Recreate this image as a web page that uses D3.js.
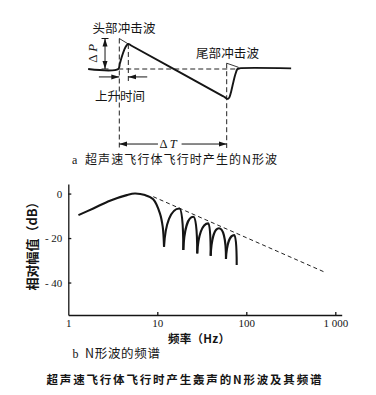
<!DOCTYPE html>
<html>
<head>
<meta charset="utf-8">
<script src="https://cdnjs.cloudflare.com/ajax/libs/d3/7.8.5/d3.min.js"></script>
<style>
body { margin: 0; background: #fff; }
svg { display: block; }
text { fill: #151515; }
.cjk { font-family: "Noto Sans CJK SC", sans-serif; }
.num { font-family: "Liberation Serif", "DejaVu Serif", serif; }
.axis path, .axis line { stroke: #151515; stroke-width: 1.3; }
.axis text { font-family: "Liberation Serif", serif; font-size: 11px; fill: #151515; }
</style>
</head>
<body>
<svg id="chart" width="376" height="395"></svg>
<script>
// a: N wave, t in units of dT, p in units of dP
var waveT = [-0.29, -0.01, 0.005, 0.025, 0.045, 0.065, 0.084, 0.11, 0.96, 0.985, 1.0, 1.012, 1.025, 1.04, 1.06, 1.08, 1.1, 1.115, 1.6];
var waveP = [0, 0, 0.18, 0.42, 0.62, 0.76, 0.82, 0.77, -0.88, -0.93, -0.97, -0.98, -0.93, -0.76, -0.46, -0.18, 0.0, 0.02, 0.02];
var headIdealT = [0, 0.084];
var headIdealP = [1, 0.82];
var tailIdealT = [1.0, 1.11];
var tailIdealP = [0.19, 0.055];

// b: spectrum
var xTicks = [1, 10, 100, 1000];
var xTickLabels = ["1", "10", "100", "1 000"];
var yTicks = [0, -20, -40];
var yTickLabels = ["0", "- 20", "- 40"];
var humpF = [1.3, 1.91, 2.94, 4.54, 5.6, 7.28, 9.0, 10.7, 11.5, 11.9];
var humpDb = [-9.7, -6.7, -3.2, -0.7, 0, -0.7, -2.6, -8.9, -14.9, -23.9];
var lobeFootF = [11.9, 19.6, 28.1, 39.8, 59.1, 78];
var lobeFootDb = [-23.9, -25.4, -26.9, -28, -29.4, -32.1];
var lobePeakF = [17.7, 25.4, 37.4, 49.3, 73.3];
var lobePeakDb = [-6.7, -10.4, -13.4, -15.6, -18.7];
var slopeF = [9, 787];
var slopeDb = [-1.4, -35.6];

var svg = d3.select("#chart");

svg.append("defs").selectAll("marker")
    .data(["arrEnd", "arrStart"])
  .enter().append("marker")
    .attr("id", function(d) { return d; })
    .attr("viewBox", "0 -3 8 6")
    .attr("refX", function(d) { return d == "arrEnd" ? 8 : 0; })
    .attr("refY", 0)
    .attr("markerWidth", 8)
    .attr("markerHeight", 6)
    .attr("markerUnits", "userSpaceOnUse")
    .attr("orient", "auto")
  .append("path")
    .attr("d", function(d) { return d == "arrEnd" ? "M0,-2.5L8,0L0,2.5Z" : "M8,-2.5L0,0L8,2.5Z"; })
    .attr("fill", "#151515");

// ---------- a ----------
var xa = d3.scaleLinear().domain([0, 1]).range([119.3, 226.7]);
var ya = d3.scaleLinear().domain([0, 1]).range([69, 38.5]);

var waveLine = d3.line()
    .x(function(d) { return xa(d[0]); })
    .y(function(d) { return ya(d[1]); });

var ga = svg.append("g");

function dashed(t0, p0, t1, p1) {
  ga.append("line")
      .attr("x1", xa(t0)).attr("y1", ya(p0))
      .attr("x2", xa(t1)).attr("y2", ya(p1))
      .attr("stroke", "#222").attr("stroke-width", 1)
      .attr("stroke-dasharray", "5,3");
}
dashed(-0.01, 0, 1.12, 0);
dashed(0, 1, 0, -2.59);
dashed(1, 0.19, 1, -2.59);
dashed(0.084, 0.82, 0.084, -0.46);

ga.append("path")
    .datum(d3.zip(headIdealT, headIdealP))
    .attr("d", waveLine)
    .attr("fill", "none").attr("stroke", "#222").attr("stroke-width", 0.9);
ga.append("path")
    .datum(d3.zip(tailIdealT, tailIdealP))
    .attr("d", waveLine)
    .attr("fill", "none").attr("stroke", "#222").attr("stroke-width", 0.9);

ga.append("path")
    .datum(d3.zip(waveT, waveP))
    .attr("d", waveLine.curve(d3.curveCatmullRom.alpha(0.5)))
    .attr("fill", "none").attr("stroke", "#151515").attr("stroke-width", 1.9);

// dP arrow
var tp = -0.133;
ga.append("line")
    .attr("x1", xa(tp)).attr("y1", ya(0))
    .attr("x2", xa(tp)).attr("y2", ya(1))
    .attr("stroke", "#151515").attr("stroke-width", 1)
    .attr("marker-start", "url(#arrStart)")
    .attr("marker-end", "url(#arrEnd)");
[0, 1].forEach(function(p) {
  ga.append("line")
      .attr("x1", xa(tp) - 3.5).attr("x2", xa(tp) + 3.5)
      .attr("y1", ya(p)).attr("y2", ya(p))
      .attr("stroke", "#151515").attr("stroke-width", 1);
});
ga.append("text")
    .attr("class", "num")
    .attr("transform", "translate(" + (xa(tp) - 8) + "," + (ya(0.5) + 9) + ") rotate(-90)")
    .attr("font-size", 13)
    .text("Δ");
ga.append("text")
    .attr("class", "num")
    .attr("transform", "translate(" + (xa(tp) - 8) + "," + (ya(0.5) - 2) + ") rotate(-90)")
    .attr("font-size", 13).attr("font-style", "italic")
    .text("P");

// rise time arrows
var pr = -0.26;
ga.append("line")
    .attr("x1", xa(-0.19)).attr("y1", ya(pr)).attr("x2", xa(0)).attr("y2", ya(pr))
    .attr("stroke", "#151515").attr("stroke-width", 1)
    .attr("marker-end", "url(#arrEnd)");
ga.append("line")
    .attr("x1", xa(0.26)).attr("y1", ya(pr)).attr("x2", xa(0.084)).attr("y2", ya(pr))
    .attr("stroke", "#151515").attr("stroke-width", 1)
    .attr("marker-end", "url(#arrEnd)");

// dT arrow
var pt = -2.46;
ga.append("line")
    .attr("x1", xa(0.36)).attr("y1", ya(pt)).attr("x2", xa(0)).attr("y2", ya(pt))
    .attr("stroke", "#151515").attr("stroke-width", 1)
    .attr("marker-end", "url(#arrEnd)");
ga.append("line")
    .attr("x1", xa(0.58)).attr("y1", ya(pt)).attr("x2", xa(1)).attr("y2", ya(pt))
    .attr("stroke", "#151515").attr("stroke-width", 1)
    .attr("marker-end", "url(#arrEnd)");
ga.append("text")
    .attr("class", "num")
    .attr("x", xa(0.375)).attr("y", ya(pt) + 3.5)
    .attr("font-size", 12.5)
    .text("Δ");
ga.append("text")
    .attr("class", "num")
    .attr("x", xa(0.47)).attr("y", ya(pt) + 3.5)
    .attr("font-size", 12.5).attr("font-style", "italic")
    .text("T");

ga.append("text").attr("class", "cjk")
    .attr("x", 92.5).attr("y", 32.5).attr("font-size", 12.5)
    .attr("textLength", 63).attr("lengthAdjust", "spacing")
    .text("头部冲击波");
ga.append("text").attr("class", "cjk")
    .attr("x", 196).attr("y", 57.5).attr("font-size", 12.5)
    .attr("textLength", 63).attr("lengthAdjust", "spacing")
    .text("尾部冲击波");
ga.append("text").attr("class", "cjk")
    .attr("x", 95).attr("y", 101).attr("font-size", 12.5)
    .attr("textLength", 50).attr("lengthAdjust", "spacing")
    .text("上升时间");
ga.append("text").attr("class", "num")
    .attr("x", 72).attr("y", 164).attr("font-size", 12)
    .text("a");
ga.append("text").attr("class", "cjk")
    .attr("x", 85).attr("y", 164).attr("font-size", 12)
    .attr("textLength", 192).attr("lengthAdjust", "spacing")
    .text("超声速飞行体飞行时产生的N形波");

// ---------- b ----------
var x = d3.scaleLog().domain([1, 1180]).range([68.3, 341.7]);
var y = d3.scaleLinear().domain([-54.6, 4.3]).range([315, 184]);

var gb = svg.append("g");

gb.append("g")
    .attr("class", "axis")
    .attr("transform", "translate(0,315)")
    .call(d3.axisBottom(x)
      .tickValues(xTicks)
      .tickFormat(function(d, i) { return xTickLabels[i]; })
      .tickSizeInner(-3).tickSizeOuter(0).tickPadding(4));

gb.append("g")
    .attr("class", "axis")
    .attr("transform", "translate(68.3,0)")
    .call(d3.axisLeft(y)
      .tickValues(yTicks)
      .tickFormat(function(d, i) { return yTickLabels[i]; })
      .tickSizeInner(-3).tickSizeOuter(0).tickPadding(6));

gb.selectAll(".axis .tick").filter(function(d) { return d === 1; }).select("line").remove();

var specLine = d3.line()
    .x(function(d) { return x(d[0]); })
    .y(function(d) { return y(d[1]); });

gb.append("path")
    .datum(d3.zip(slopeF, slopeDb))
    .attr("d", specLine)
    .attr("fill", "none").attr("stroke", "#222").attr("stroke-width", 1)
    .attr("stroke-dasharray", "4,3");

gb.append("path")
    .datum(d3.zip(humpF, humpDb))
    .attr("d", specLine.curve(d3.curveCatmullRom.alpha(0.5)))
    .attr("fill", "none").attr("stroke", "#151515").attr("stroke-width", 2.1);

// lobes between successive zeros
var lobes = lobePeakF.map(function(f, i) {
  return {
    xl: x(lobeFootF[i]), yl: y(lobeFootDb[i]),
    xp: x(f), yp: y(lobePeakDb[i]),
    xr: x(lobeFootF[i + 1]), yr: y(lobeFootDb[i + 1])
  };
});

gb.selectAll(".lobe")
    .data(lobes)
  .enter().append("path")
    .attr("class", "lobe")
    .attr("d", function(d) {
      var p = d3.path();
      p.moveTo(d.xl, d.yl);
      p.bezierCurveTo(d.xl + 0.08 * (d.xp - d.xl), d.yl - 0.6 * (d.yl - d.yp),
                      d.xl + 0.45 * (d.xp - d.xl), d.yp,
                      d.xp, d.yp);
      p.bezierCurveTo(d.xp + 0.55 * (d.xr - d.xp), d.yp,
                      d.xr, d.yp + 0.3 * (d.yr - d.yp),
                      d.xr, d.yr);
      return p.toString();
    })
    .attr("fill", "none").attr("stroke", "#151515").attr("stroke-width", 2.1);

gb.append("text").attr("class", "cjk")
    .attr("transform", "translate(37,243) rotate(-90)")
    .attr("text-anchor", "middle")
    .attr("font-size", 13).attr("font-weight", "bold")
    .text("相对幅值（dB）");

gb.append("text").attr("class", "cjk")
    .attr("x", 168).attr("y", 343).attr("font-size", 11.5).attr("font-weight", "bold")
    .attr("textLength", 62).attr("lengthAdjust", "spacing")
    .text("频率（Hz）");

gb.append("text").attr("class", "num")
    .attr("x", 72.5).attr("y", 358).attr("font-size", 12)
    .text("b");
gb.append("text").attr("class", "cjk")
    .attr("x", 85).attr("y", 358).attr("font-size", 12.5)
    .attr("textLength", 75).attr("lengthAdjust", "spacing")
    .text("N形波的频谱");

svg.append("text").attr("class", "cjk")
    .attr("x", 46.5).attr("y", 384).attr("font-size", 11.5).attr("font-weight", "bold")
    .attr("textLength", 275).attr("lengthAdjust", "spacing")
    .text("超声速飞行体飞行时产生轰声的N形波及其频谱");
</script>
</body>
</html>
